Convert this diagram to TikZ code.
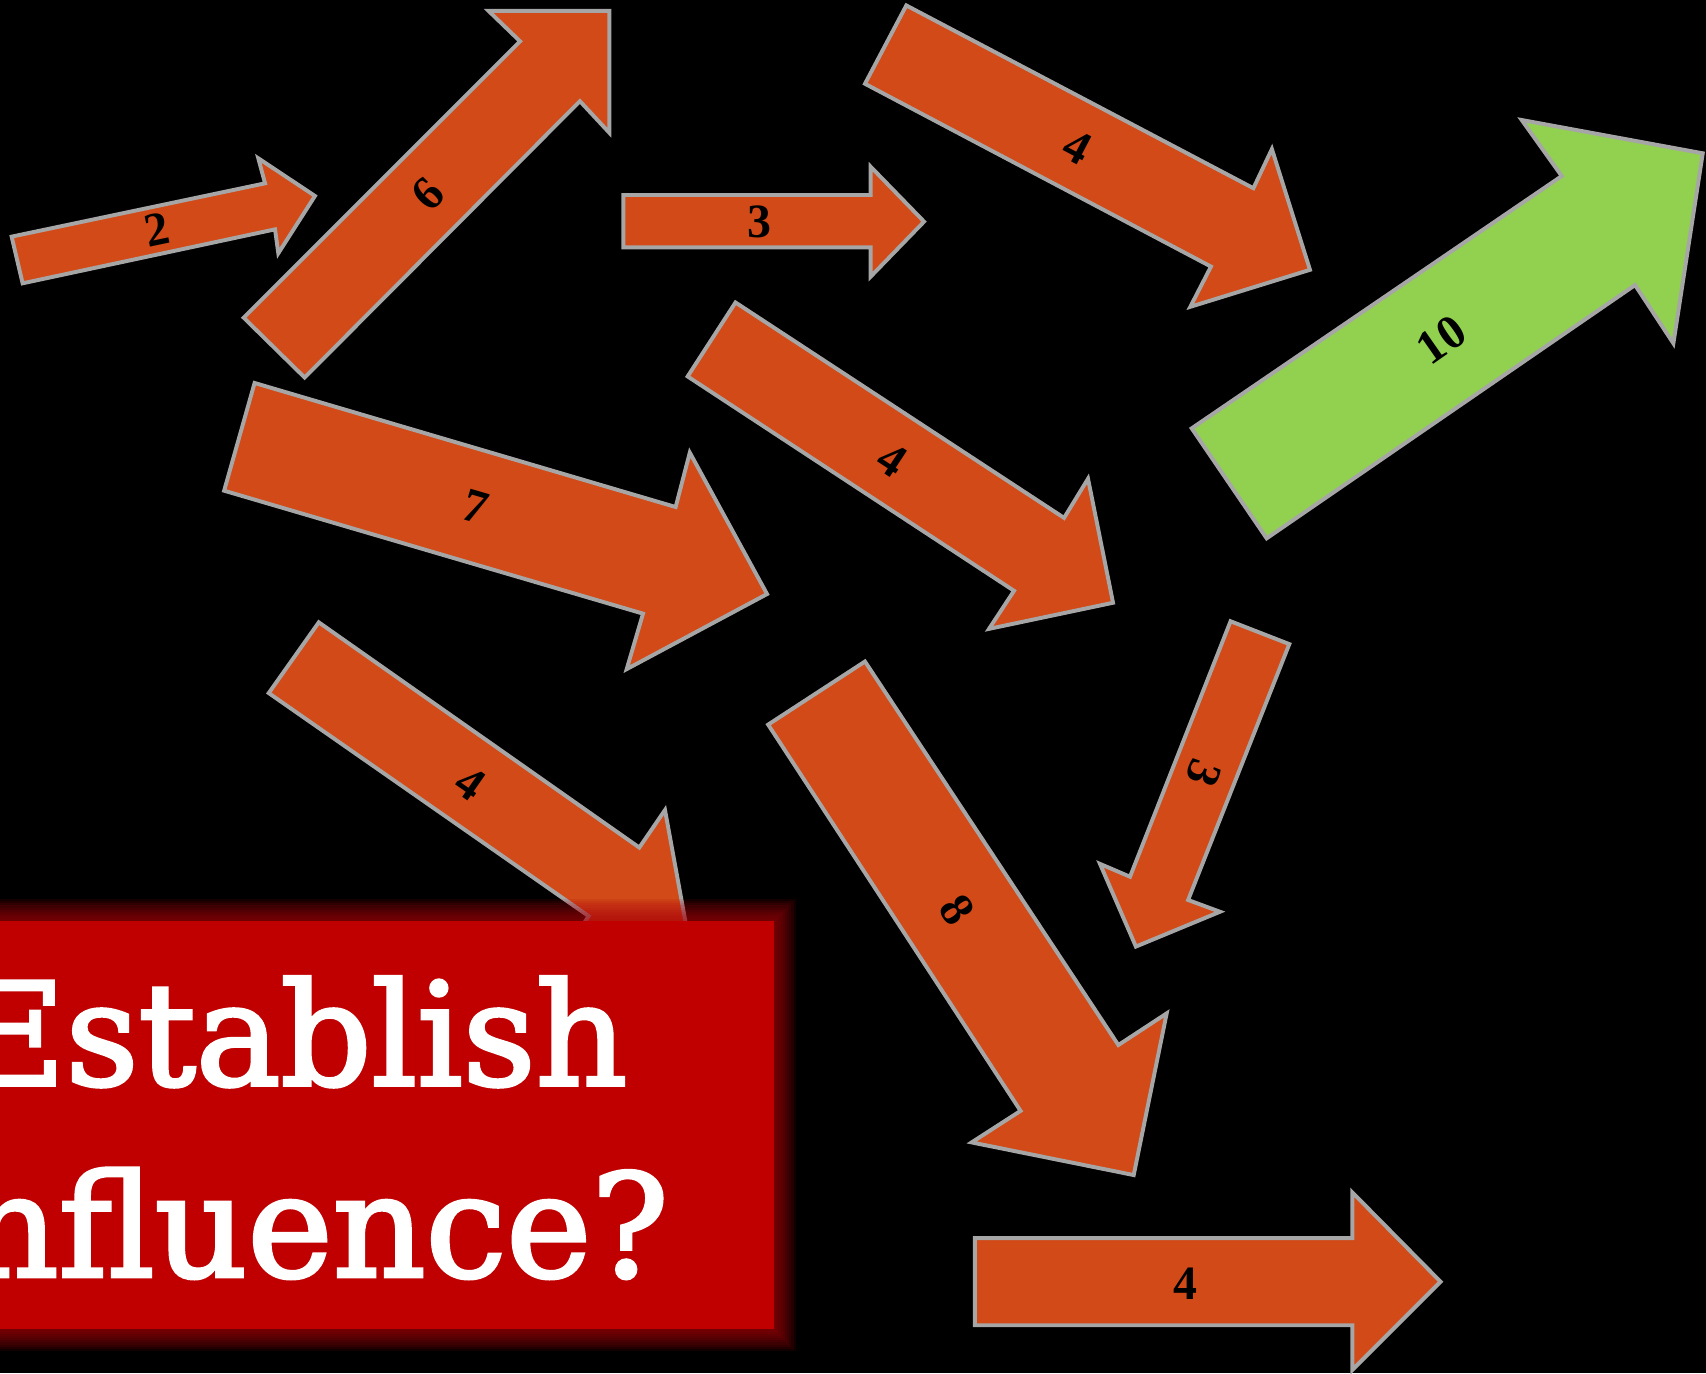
\documentclass[tikz,border=0pt]{standalone}
\usepackage{fontspec}
\newfontfamily\titlefont[FakeBold=2.5]{DejaVu Serif}
\newfontfamily\numfont{Liberation Serif}
\definecolor{arrorange}{RGB}{209,74,23}
\definecolor{arrgreen}{RGB}{146,208,80}
\definecolor{arredge}{RGB}{166,166,166}
\definecolor{boxred}{RGB}{192,0,0}
\definecolor{glowred}{RGB}{170,0,12}
\newlength\lenA \newlength\lenB \newlength\lenC \newlength\lenD
\tikzset{
  arr/.style={fill=arrorange, draw=arredge, line width=1.8pt, line join=miter, miter limit=10},
  garr/.style={arr, fill=arrgreen},
  num/.style={font=\numfont\bfseries\fontsize{22}{26}\selectfont, text=black, inner sep=0pt},
  titletext/.style={anchor=base east, inner sep=0pt, text=white},
}
\begin{document}
\settowidth\lenA{\titlefont\fontsize{60}{72}\selectfont stablish}%
\settoheight\lenB{\titlefont\fontsize{60}{72}\selectfont stablish}%
\settowidth\lenC{\titlefont\fontsize{60}{72}\selectfont fluence?}%
\settoheight\lenD{\titlefont\fontsize{60}{72}\selectfont fluence?}%
\pgfmathsetmacro\sxA{258.15/\lenA}%
\pgfmathsetmacro\syA{49.75/\lenB}%
\pgfmathsetmacro\sxB{280.35/\lenC}%
\pgfmathsetmacro\syB{49.9/\lenD}%
\begin{tikzpicture}[x={(0.5pt,0pt)}, y={(0pt,-0.5pt)}]
\fill[black] (0,0) rectangle (1568,1262);
\useasboundingbox (0,0) rectangle (1568,1262);
\clip (0,0) rectangle (1568,1262);

% arrows
\draw[arr] (10.7,217.5) -- (243.6,168.5) -- (237.4,145.5) -- (289.5,180.1) -- (255.8,232.8) -- (252.8,210.8) -- (20.8,260.4) -- cycle;
\draw[arr] (224,292) -- (478,38) -- (449,10) -- (560,10) -- (560,122) -- (533,93) -- (280,347) -- cycle;
\draw[arr] (573,179.2) -- (800.2,179.2) -- (800.2,153.2) -- (849.3,203.7) -- (800.2,254.3) -- (800.2,227.3) -- (573,227.3) -- cycle;
\draw[arr] (833,5) -- (1152,173) -- (1169,137) -- (1204,248) -- (1094,282) -- (1113,245) -- (795,77) -- cycle;
\draw[garr] (1095.3,393.7) -- (1435.4,161.8) -- (1398.6,110.3) -- (1565,140.9) -- (1538,315.6) -- (1502.8,262) -- (1164.2,494.8) -- cycle;
\draw[arr] (676,278) -- (978,476) -- (1000,440) -- (1023,554) -- (909,578) -- (932,543) -- (632,346) -- cycle;
\draw[arr] (234,352) -- (621,466) -- (634,416) -- (705,546) -- (576,615) -- (591,564) -- (206,451) -- cycle;
\draw[arr] (293,572) -- (587.6,779) -- (611.2,744.5) -- (632,858) -- (518,877) -- (541,842) -- (247,637) -- cycle;
\draw[arr] (795,608) -- (1027.9,960.5) -- (1072.3,931.4) -- (1042,1080) -- (893,1050) -- (938,1021) -- (706,666) -- cycle;
\draw[arr] (1185,592) -- (1092,827.2) -- (1121.3,838) -- (1044,870) -- (1011,794) -- (1038.6,805.8) -- (1131,571) -- cycle;
\draw[arr] (896,1138) -- (1243,1138) -- (1243,1096) -- (1324,1178) -- (1243,1259) -- (1243,1218) -- (896,1218) -- cycle;

% labels
\node[num, rotate=11.9] (n2) at (144,211.4) {2};
\node[num, rotate=45] (n6) at (393,178) {6};
\node[num] (n3a) at (698,204) {3};
\node[num, rotate=-27.8] (n4a) at (990,135) {4};
\node[num, rotate=34.9] (n10) at (1325,312) {10};
\node[num, rotate=-33.3] (n4b) at (820,423) {4};
\node[num, rotate=-16.4] (n7) at (437,466) {7};
\node[num, rotate=-34.9] (n4c) at (432,720) {4};
\node[num, rotate=-56.8] (n8) at (880,836) {8};
\node[num, rotate=-111.2] (n3b) at (1106,710.8) {3};
\node[num] (n4d) at (1090,1180) {4};

% glow and title box
\foreach \i in {1,...,10} {
  \fill[glowred, opacity=0.11] (-80-2*\i,846.2-2*\i) rectangle (711.4+2*\i,1221.8+2*\i);
}
\fill[boxred] (-80,846.2) rectangle (711.4,1221.8);
\node[titletext] (t1) at (577,997.2) {\scalebox{\sxA}[\syA]{\titlefont\fontsize{60}{72}\selectfont Establish}};
\node[titletext] (t2) at (615,1173.4) {\scalebox{\sxB}[\syB]{\titlefont\fontsize{60}{72}\selectfont Influence?}};
\end{tikzpicture}
\end{document}
